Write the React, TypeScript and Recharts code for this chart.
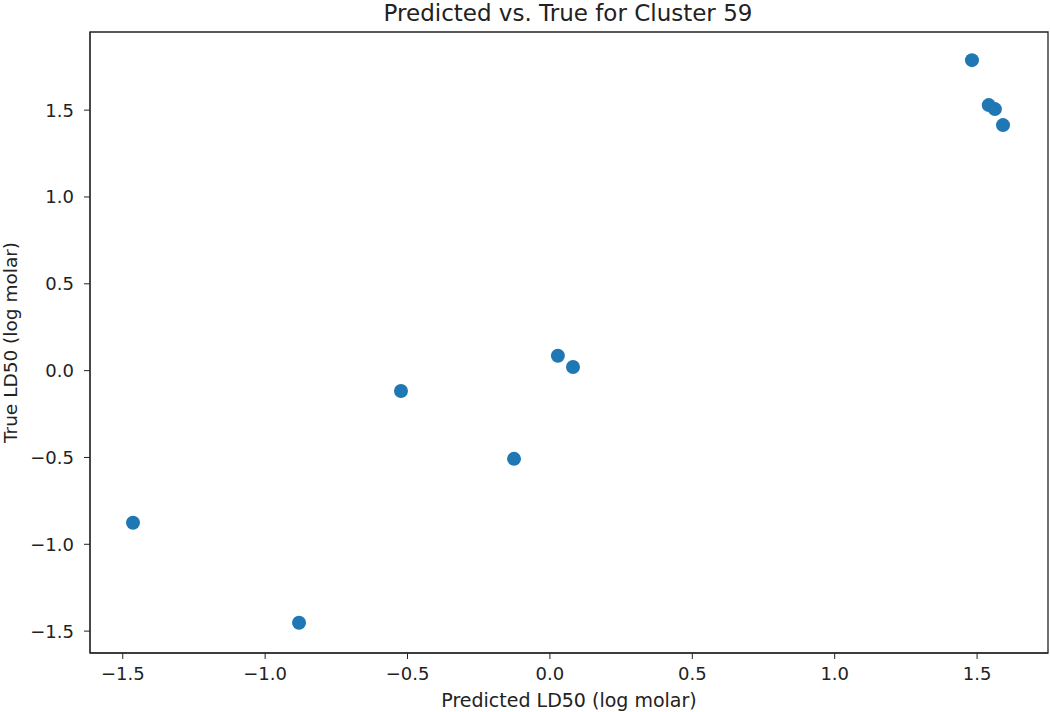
import {
  ScatterChart,
  Scatter,
  XAxis,
  YAxis,
  ReferenceArea,
  Label,
} from "recharts";

const predicted = [-1.464, -0.881, -0.523, -0.126, 0.028, 0.081, 1.482, 1.541, 1.5625, 1.591];
const actual = [-0.876, -1.452, -0.117, -0.508, 0.086, 0.021, 1.788, 1.529, 1.506, 1.414];

const xTicks = [-1.5, -1.0, -0.5, 0.0, 0.5, 1.0, 1.5];
const yTicks = [-1.5, -1.0, -0.5, 0.0, 0.5, 1.0, 1.5];

const X_MIN = -1.615;
const X_MAX = 1.749;
const Y_MIN = -1.626;
const Y_MAX = 1.95;

const points = predicted.map((p, i) => ({ x: p, y: actual[i] }));

const FONT = "'DejaVu Sans', sans-serif";
const fmt = (v: number) => v.toFixed(1).replace("-", "\u2212");

const Dot = (props: any) => (
  <circle cx={props.cx} cy={props.cy} r={7} fill="#1f77b4" />
);

const YLabel = (props: any) => {
  const vb = props.viewBox;
  const cx = 10;
  const cy = vb.y + vb.height / 2;
  return (
    <text
      x={cx}
      y={cy}
      transform={`rotate(-90 ${cx} ${cy})`}
      textAnchor="middle"
      dominantBaseline="central"
      fontSize={18.5}
      fontFamily={FONT}
      fill="#222"
    >
      True LD50 (log molar)
    </text>
  );
};

export default function App() {
  return (
    <div style={{ position: "absolute", left: 0, top: 0, width: 1050, height: 712, background: "#fff" }}>
      <ScatterChart
        width={1050}
        height={712}
        margin={{ top: 32, right: 2, bottom: 0, left: 0 }}
      >
        <text
          x={568}
          y={21}
          textAnchor="middle"
          fontSize={23}
          fontFamily={FONT}
          fill="#222"
        >
          Predicted vs. True for Cluster 59
        </text>
        <XAxis
          type="number"
          dataKey="x"
          domain={[X_MIN, X_MAX]}
          ticks={xTicks}
          allowDataOverflow
          height={59}
          tickSize={6}
          tickMargin={8}
          tickFormatter={fmt}
          tick={{ fontSize: 18, fontFamily: FONT, fill: "#222" }}
          tickLine={{ stroke: "#222" }}
          axisLine={{ stroke: "#222" }}
        >
          <Label
            value="Predicted LD50 (log molar)"
            position="insideBottom"
            offset={5}
            style={{ fontSize: 19, fontFamily: FONT, fill: "#222" }}
          />
        </XAxis>
        <YAxis
          type="number"
          dataKey="y"
          domain={[Y_MIN, Y_MAX]}
          ticks={yTicks}
          allowDataOverflow
          width={90}
          tickSize={6}
          tickMargin={10}
          tickFormatter={fmt}
          tick={{ fontSize: 18, fontFamily: FONT, fill: "#222" }}
          tickLine={{ stroke: "#222" }}
          axisLine={{ stroke: "#222" }}
        >
          <Label content={YLabel} />
        </YAxis>
        <ReferenceArea
          x1={X_MIN}
          x2={X_MAX}
          y1={Y_MIN}
          y2={Y_MAX}
          fill="none"
          stroke="#222"
          strokeWidth={1.3}
        />
        <Scatter data={points} shape={Dot} isAnimationActive={false} />
      </ScatterChart>
    </div>
  );
}
